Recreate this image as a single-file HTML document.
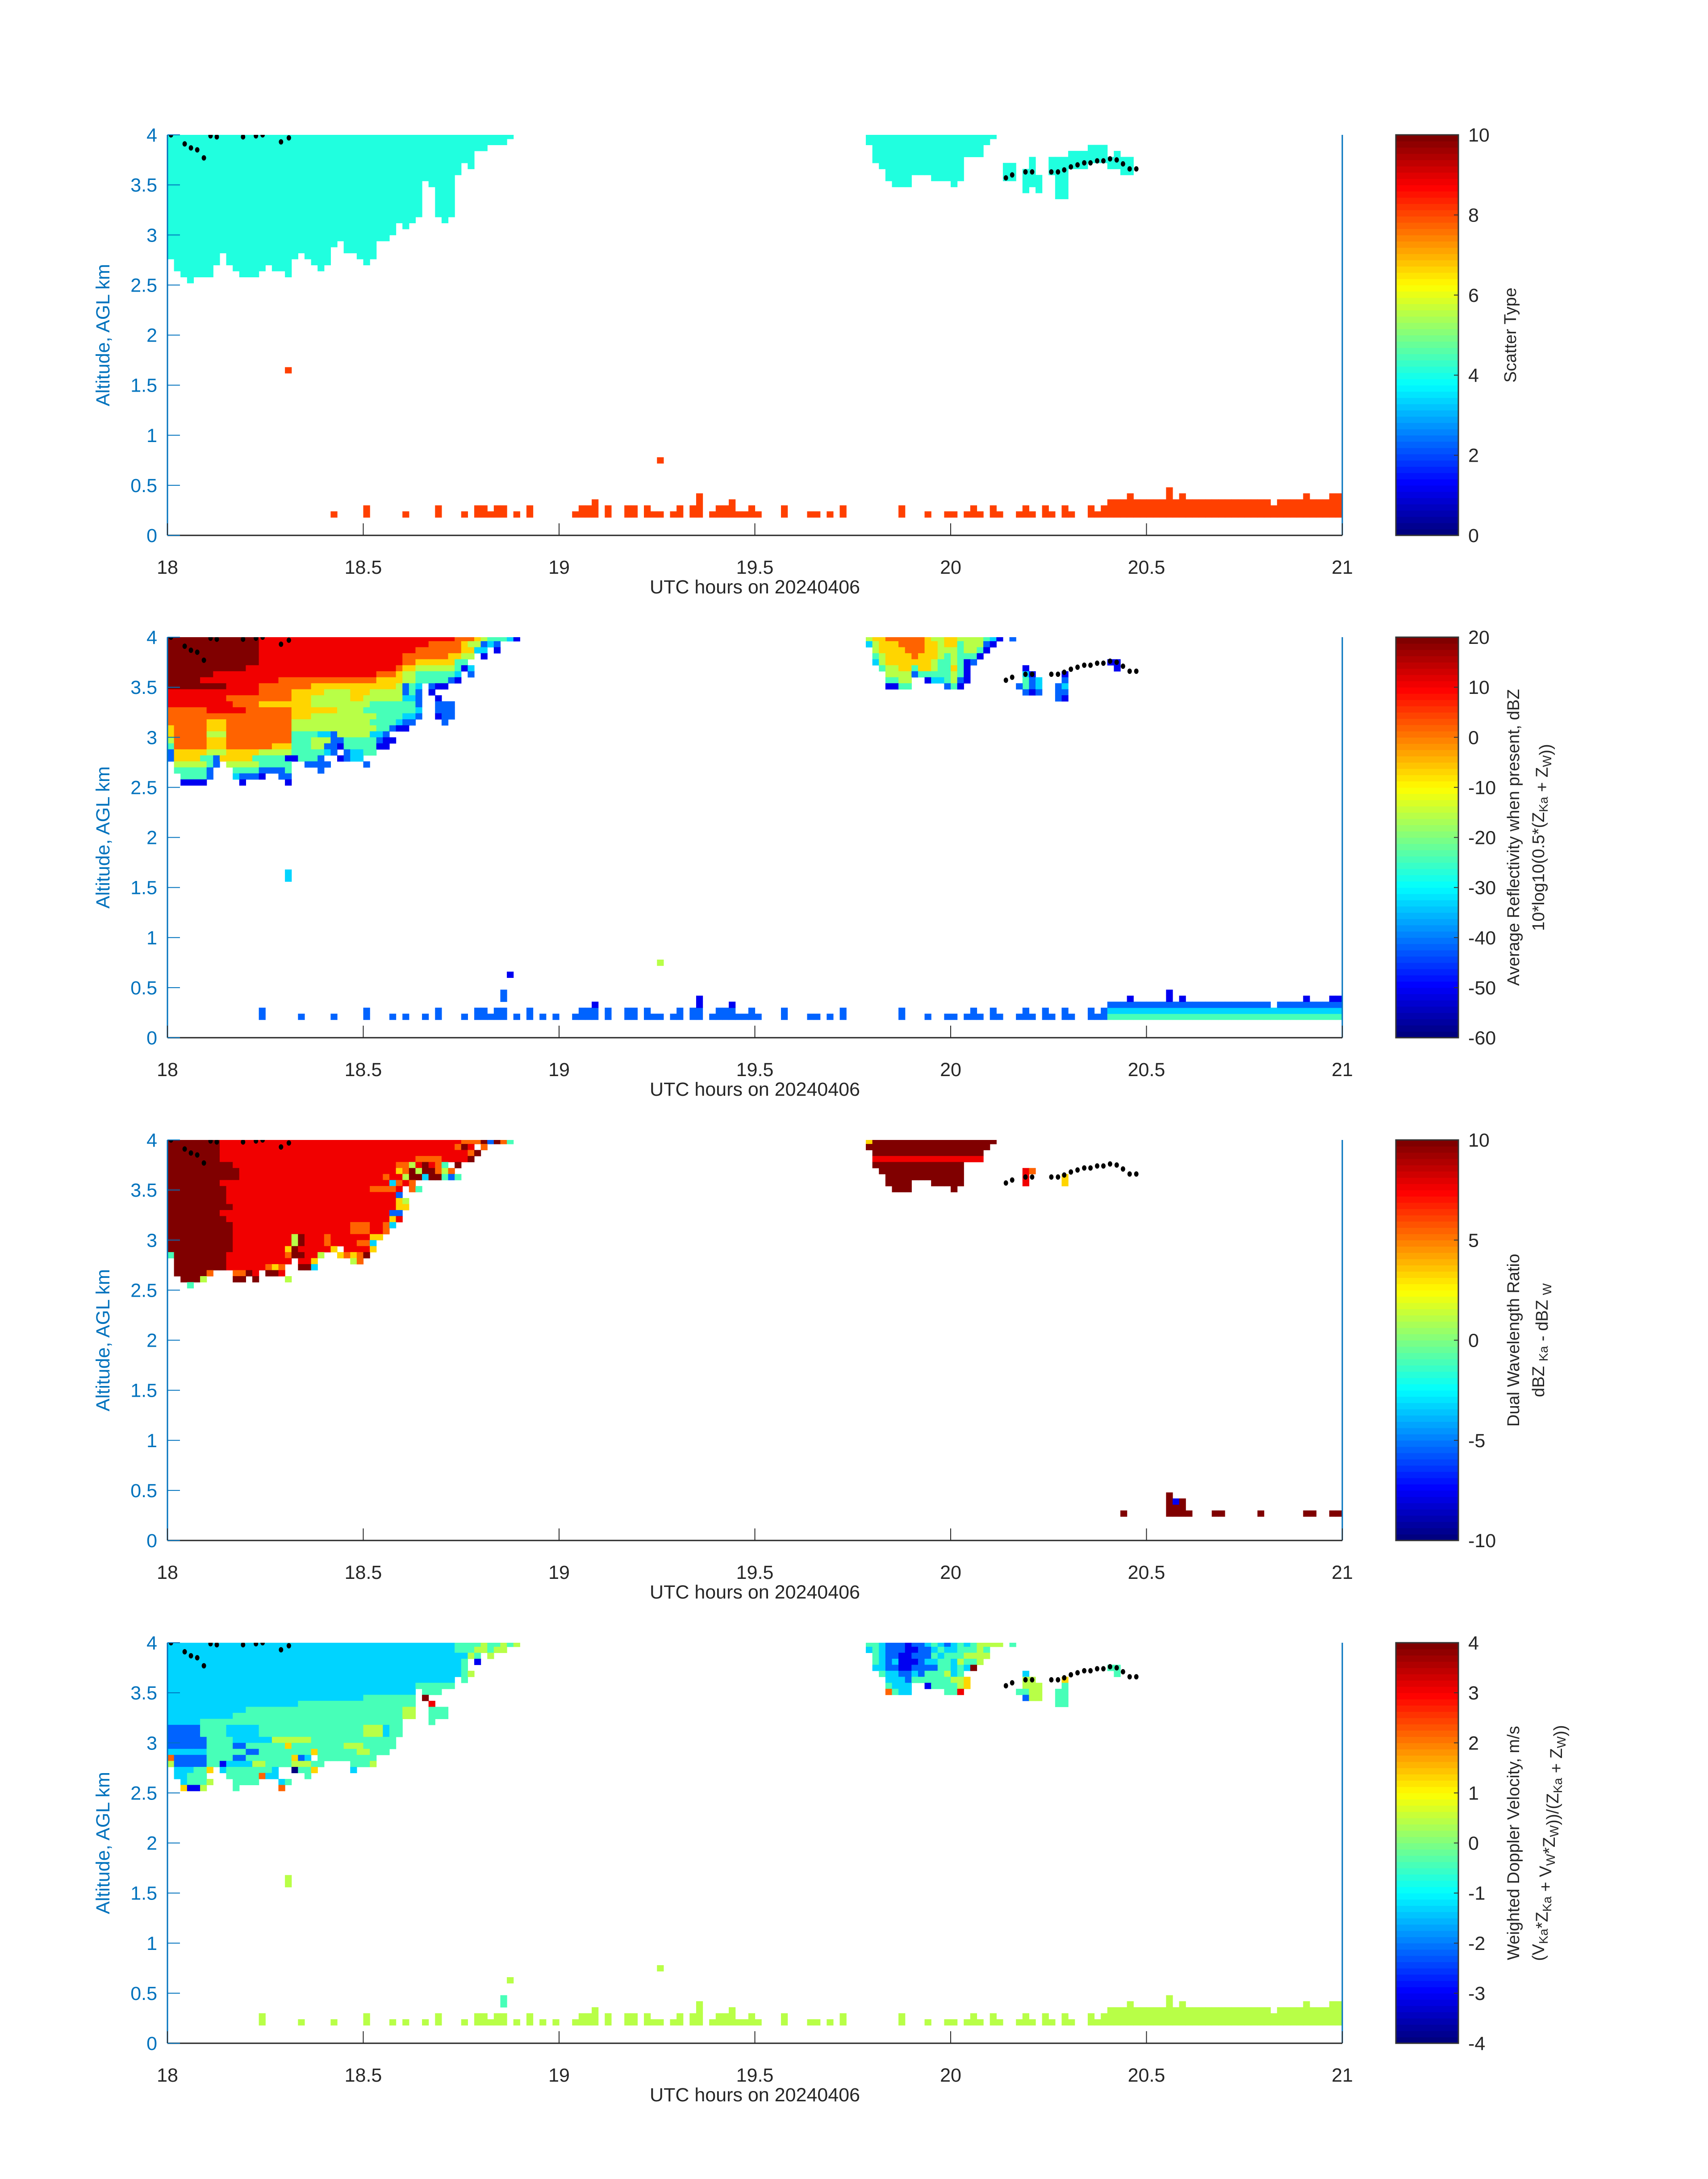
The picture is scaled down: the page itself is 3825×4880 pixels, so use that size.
<!DOCTYPE html>
<html><head><meta charset="utf-8"><title>Radar panels 20240406</title>
<style>
html,body{margin:0;padding:0;background:#fff;}
svg text{font-family:"Liberation Sans","DejaVu Sans",sans-serif;}
</style></head>
<body>
<svg id="fig" xmlns="http://www.w3.org/2000/svg" width="3825" height="4875" viewBox="0 0 3825 4875">
<rect x="0" y="0" width="3825" height="4875" fill="#fff"/>
</svg>
<script>
// ---------------- DATA ----------------
const xTickValues = [18, 18.5, 19, 19.5, 20, 20.5, 21];
const xTickLabels = ["18", "18.5", "19", "19.5", "20", "20.5", "21"];
const yTickValues = [0, 0.5, 1, 1.5, 2, 2.5, 3, 3.5, 4];
const yTickLabels = ["0", "0.5", "1", "1.5", "2", "2.5", "3", "3.5", "4"];
const cbTicks1 = [0, 2, 4, 6, 8, 10];
const cbTicks2 = [-60, -50, -40, -30, -20, -10, 0, 10, 20];
const cbTicks3 = [-10, -5, 0, 5, 10];
const cbTicks4 = [-4, -3, -2, -1, 0, 1, 2, 3, 4];
const cbRanges = [[0, 10], [-60, 20], [-10, 10], [-4, 4]];

const cloud1Bottom = [2.76,2.64,2.58,2.52,2.58,2.58,2.58,2.70,2.82,2.70,2.64,2.58,2.58,2.58,2.64,2.70,2.64,2.64,2.58,2.76,2.82,2.76,2.70,2.64,2.70,2.88,2.94,2.82,2.82,2.76,2.70,2.76,2.94,2.94,3.00,3.12,3.06,3.12,3.18,3.54,3.48,3.18,3.12,3.18,3.60,3.72,3.66,3.84,3.84,3.90,3.90,3.90,3.96];
const cloud2Start = 107;
const cloud2Bottom = [3.90,3.72,3.66,3.54,3.48,3.48,3.48,3.60,3.60,3.60,3.54,3.54,3.54,3.48,3.54,3.78,3.78,3.78,3.90,3.96];
const blobCols = [128,129,131,132,133,135,136,137,138,139,140,141,142,143,144,145,146,147];
const blobBottom = [3.54,3.54,3.42,3.48,3.42,3.60,3.36,3.36,3.66,3.66,3.66,3.72,3.72,3.72,3.66,3.66,3.60,3.60];
const blobTop = [3.72,3.72,3.66,3.78,3.60,3.78,3.78,3.78,3.84,3.84,3.84,3.90,3.90,3.90,3.78,3.84,3.78,3.78];
const clutterCols = [25,30,36,41,45,47,48,49,50,51,53,55,62,63,64,65,67,70,71,73,74,75,77,78,80,81,83,84,85,86,87,88,89,90,94,98,99,101,103,112,116,119,120,122,123,124,126,127,130,131,132,134,135,137,138,141,142,143,144,145,146,147,148,149,150,151,152,153,154,155,156,157,158,159,160,161,162,163,164,165,166,167,168,169,170,171,172,173,174,175,176,177,178,179];
const clutterTop = [.24,.30,.24,.30,.24,.30,.30,.24,.30,.30,.24,.30,.24,.30,.30,.36,.30,.30,.30,.30,.24,.24,.24,.30,.30,.42,.24,.30,.30,.36,.24,.24,.30,.24,.30,.24,.24,.24,.30,.30,.24,.24,.24,.24,.30,.24,.30,.24,.24,.30,.24,.30,.24,.30,.24,.30,.24,.30,.36,.36,.36,.42,.36,.36,.36,.36,.36,.48,.36,.42,.36,.36,.36,.36,.36,.36,.36,.36,.36,.36,.36,.36,.36,.30,.36,.36,.36,.36,.42,.36,.36,.36,.42,.42];
const clutterBase = 0.18;
const extraClutterCols = [14,20,34,39,57,59];
const extraClutterTop = [.30,.24,.24,.24,.24,.24];
const isoCols1 = [18, 75];
const isoBottom1 = [1.62, 0.72];
const isoCols2 = [18, 75, 51, 52];
const isoBottom2 = [1.56, 0.72, 0.36, 0.60];
const isoTop2 = [1.68, 0.78, 0.48, 0.66];
const isoLevel2 = ["3", "5", "2", "1"];
const isoLevel4 = ["5", "5", "4", "5"];
const dotHours = [18.009,18.044,18.06,18.076,18.093,18.11,18.126,18.193,18.226,18.243,18.29,18.31,20.141,20.157,20.191,20.208,20.257,20.274,20.29,20.307,20.324,20.341,20.357,20.374,20.39,20.407,20.424,20.44,20.457,20.474];
const dotKm = [4.0,3.91,3.87,3.85,3.77,3.99,3.98,3.98,3.99,4.0,3.93,3.97,3.57,3.60,3.63,3.63,3.63,3.63,3.65,3.68,3.70,3.72,3.72,3.74,3.74,3.76,3.75,3.71,3.66,3.66];

const reflRows = [
"9:14,8:30,7:3,6:1,5:1,4:3,3:1,1:1",
"9:14,8:26,7:5,6:1,5:2,2:1,3:1,2:1",
"9:14,8:24,7:7,6:2,3:2,.:1,1:1",
"9:14,8:22,7:7,6:2,5:2,.:1,1:1",
"9:14,8:22,7:2,6:6,4:2",
"9:12,8:23,7:1,6:2,5:6,4:1,1:1,3:1",
"9:7,8:25,7:3,6:1,5:2,4:6,3:1,.:1,2:1",
"9:5,8:12,7:15,6:4,5:2,4:5,2:1,1:1",
"9:9,8:5,7:8,6:13,5:1,2:1,4:1,3:1,.:1,2:1,1:2",
"8:14,7:5,6:5,5:4,6:3,5:5,2:1,4:1,2:1,.:1,1:1",
"8:9,7:10,6:3,5:6,6:2,5:6,3:2,2:1,.:2,1:1",
"8:10,7:4,6:8,5:9,4:7,2:1,.:2,2:3",
"7:6,8:6,7:7,6:7,5:4,4:8,3:1,.:2,2:3",
"7:19,6:3,5:10,4:4,3:2,2:1,.:2,1:1,2:2",
"7:6,6:3,7:10,5:12,4:4,3:1,2:2,.:4,2:1",
"6:1,7:5,6:3,7:10,5:13,4:2,2:1,1:2",
"6:1,7:5,5:3,7:10,4:4,3:2,2:1,5:5,3:2,2:1",
"5:1,7:5,6:3,7:10,4:3,5:3,2:2,4:5,2:1,1:2",
"4:1,7:5,6:3,7:7,6:3,4:3,5:2,2:2,1:1,4:5,1:2",
"2:1,6:5,5:3,6:5,5:5,4:5,3:1,2:1,.:1,2:1,3:2,4:2",
"2:1,6:4,4:2,2:1,6:5,4:5,1:2,4:3,2:1,.:2,1:1,2:1,3:2",
".:1,5:5,4:1,2:1,.:1,5:5,4:5,.:2,2:4,.:5,2:1",
".:1,4:5,2:1,.:3,4:4,2:4,4:1,.:4,2:1",
".:2,4:4,2:1,.:3,3:1,2:3,1:1,.:2,2:2",
".:2,1:4,.:5,1:1,.:6,1:1"
];
const dwrRows = [
"9:8,8:37,7:3,9:1,2:1,9:1,7:1,4:1",
"9:8,8:36,7:1,9:1,8:1,.:1,7:1",
"9:8,8:38,7:1,9:1",
"9:8,8:30,7:4,8:4,9:1",
"9:10,8:25,7:2,5:1,8:1,9:1,8:1,7:1,4:1,.:1,9:1",
"9:11,8:24,6:1,7:1,9:1,5:1,9:2,7:1,5:1,7:1",
"9:11,8:22,7:1,8:2,5:1,9:2,3:1,9:2,4:1,2:1,4:1",
"9:8,8:26,3:1,7:1,8:1,7:1",
"9:9,8:22,7:4,8:1,.:1,7:1,4:1",
"9:9,8:26,2:1",
"9:9,8:26,6:1,5:1",
"9:10,8:25,6:2",
"9:8,8:26,2:2",
"9:9,8:25,6:1,8:1",
"9:10,8:18,7:3,8:2,7:1,3:1",
"9:10,8:18,7:3,8:2,7:1",
"9:10,8:9,5:1,9:1,8:3,7:1,8:6,6:2",
"9:10,8:9,5:1,9:1,8:3,7:1,8:4,7:2,3:1",
"9:10,8:8,6:1,9:1,8:5,6:1,.:1,8:4,6:1",
"4:1,9:8,8:9,7:1,9:2,8:2,5:1,.:2,6:1,7:1,6:1,7:1,9:1",
".:1,9:8,8:10,.:1,8:2,6:1,.:5,5:1,7:1",
".:1,9:8,8:6,7:1,6:1,7:1,.:2,9:2,3:1",
".:1,9:5,7:1,.:3,7:2,9:1,8:1,.:1,9:2,8:1",
".:2,9:3,5:1,.:4,9:2,.:1,9:1,.:4,5:1",
".:3,4:1"
];
const doppRows = [
"3:44,4:4,5:1,4:2,5:1,4:1,5:1",
"3:44,4:3,5:2,4:1,5:2",
"3:46,5:1,4:1,.:1,5:1",
"3:45,4:1,.:1,1:1",
"3:45,4:1",
"3:45,4:1,5:1",
"3:44,.:1,4:1",
"3:38,4:6",
"3:38,.:1,4:3",
"3:30,4:8,.:1,9:1",
"3:20,4:18,.:2,8:1",
"3:12,4:24,5:2,.:2,4:3",
"3:10,4:26,5:2,.:2,4:3",
"3:5,4:31,.:4,4:1",
"2:5,4:4,3:5,4:16,5:3,3:1,4:2",
"2:5,4:4,3:5,4:16,5:3,3:1,4:2",
"2:6,4:4,3:6,5:6,4:13",
"2:6,4:4,2:2,4:6,6:1,4:8,5:3,4:5",
"3:6,4:6,2:2,4:8,6:1,4:6,5:2,4:3",
"7:1,2:5,4:4,2:2,4:7,6:1,2:1,3:1,.:1,4:9",
"5:1,2:5,4:2,1:1,3:4,5:2,4:4,5:3,4:2,.:4,4:3,5:1",
".:1,3:3,4:2,6:1,.:1,3:1,4:7,3:1,.:2,0:1,4:2,6:1,.:5,3:1",
".:1,3:2,4:3,.:3,4:5,7:1,3:2,.:4,4:1",
".:2,3:1,4:3,5:1,.:3,4:4,.:3,3:1,4:1",
".:2,6:1,1:2,5:1,.:4,4:1,.:6,7:1"
];
const refl2Rows = ["566777777655665555431.2","35666777766566455521",".566667776655545541",".45666676665454441",".3566666665445412","..45566466544641","...5555244444541","...4455..1334521","...1144.....241"];
const dopp2Rows = ["443222122343234345555.4","3432221122343344454",".432211222434445555",".43231112334435445",".3322112222443439","..4332232444534","...3332444444556","...4333..1444456","...7433.....448"];
const dwr2RowLevels = ["9","9","9","8","9","9","9","9","9"];
const blob2Cols = [131,131,131,131,131,130,132,132,132,132,133,133,133,136,136,136,137,137,137,137,137,144,145,145];
const blob2Rows = [5,6,7,8,9,8,6,7,8,9,7,8,9,8,9,10,6,7,8,9,10,4,4,5];
const blob2Lev = ["1","3","4","4","2","2","1","2","2","1","3","3","2","2","2","2","1","2","3","2","1","1","1","1"];
const blob4Lev = ["3","5","5","4","2","4","5","5","5","5","5","5","5","4","4","4","6","4","4","4","4","4","4","4"];
const blob3Cols = [131,131,131,132,137,137];
const blob3Rows = [5,6,7,5,6,7];
const blob3Lev = ["8","8","8","7","6","6"];
const clutterLev2A = ["2","2","1","1","1"];
const clutterLev2B = ["4","3","2","1","1"];
const clutterLev4 = ["5","5","5","5","5"];
const dwrClutterCols = [146,153,154,154,155,156,160,161,167,174,175,178,179];
const dwrClutterBottom = [0.24,0.24,0.24,0.36,0.24,0.24,0.24,0.24,0.24,0.24,0.24,0.24,0.24];
const dwrClutterTop = [0.30,0.48,0.36,0.42,0.42,0.30,0.30,0.30,0.30,0.30,0.30,0.30,0.30];
const dwrClutterLev = ["9","9","9","1","9","9","9","9","9","9","9","9","9"];

// ---------------- LAYOUT ----------------
const NS = "http://www.w3.org/2000/svg";
const svg = document.getElementById("fig");
const PT = [302, 1427, 2553, 3679];
const PH = 897;
const X0 = 375, XW = 2631;
const CBX = 3126, CBW = 140;
const BLUE = "#0072BD", DARK = "#262626";
const CYAN1 = "#20FFDF", ORANGE1 = "#FF4000";
const COLW = XW / 180;
function xh(h){ return X0 + (h - 18) * XW / 3; }
function yk(p, km){ return PT[p] + (4 - km) * PH / 4; }
function colX(k){ return xh(18 + k / 60); }
function cl(v){ return Math.max(0, Math.min(1, v)); }
function jet(t){
  const r = cl(1.5 - Math.abs(4*t - 3)), g = cl(1.5 - Math.abs(4*t - 2)), b = cl(1.5 - Math.abs(4*t - 1));
  return "rgb(" + Math.round(r*255) + "," + Math.round(g*255) + "," + Math.round(b*255) + ")";
}
function lev(c){ return jet(parseInt(c, 10) / 9); }
function rle(s){
  let out = "";
  s.split(",").forEach(function(seg){ const q = seg.split(":"); out += q[0].repeat(parseInt(q[1], 10)); });
  return out;
}
function mk(tag, attrs, parent){
  const el = document.createElementNS(NS, tag);
  for (const k in attrs) el.setAttribute(k, attrs[k]);
  (parent || svg).appendChild(el);
  return el;
}
function cell(g, p, k, bottom, top, color){
  const x = colX(k), y1 = yk(p, Math.min(top, 4.02)), y2 = yk(p, bottom);
  const r = mk("rect", {x: x.toFixed(2), y: y1.toFixed(2), width: (COLW + 0.6).toFixed(2), height: (y2 - y1 + 0.6).toFixed(2), fill: color}, g);
  
  
  return r;
}
function drawGrid(g, p, startCol, rows, isRle){
  rows.forEach(function(row, i){
    const s = isRle ? rle(row) : row;
    const bottom = (66 - i) * 0.06;
    for (let c = 0; c < s.length; c++){
      const ch = s[c];
      if (ch === "." || ch === " ") continue;
      cell(g, p, startCol + c, bottom, bottom + 0.06, lev(ch));
    }
  });
}

const cbTickSets = [cbTicks1, cbTicks2, cbTicks3, cbTicks4];
const panelNames = ["scatter-type", "reflectivity", "dual-wavelength-ratio", "doppler-velocity"];

for (let p = 0; p < 4; p++){
  const top = PT[p], bot = PT[p] + PH;
  const panel = mk("g", {});
  
  
  const clip = mk("clipPath", {id: "clip" + p}, panel);
  mk("rect", {x: X0, y: top, width: XW, height: PH}, clip);
  const plot = mk("g", {"clip-path": "url(#clip" + p + ")"}, panel);
  
  

  if (p === 0){
    cloud1Bottom.forEach(function(b, k){ cell(plot, p, k, b, 4.02, CYAN1); });
    cloud2Bottom.forEach(function(b, k){ cell(plot, p, cloud2Start + k, b, 4.02, CYAN1); });
    blobCols.forEach(function(c, i){ cell(plot, p, c, blobBottom[i], blobTop[i], CYAN1); });
    clutterCols.forEach(function(c, i){ cell(plot, p, c, clutterBase, clutterTop[i], ORANGE1); });
    isoCols1.forEach(function(c, i){ cell(plot, p, c, isoBottom1[i], isoBottom1[i] + 0.06, ORANGE1); });
  } else if (p === 1){
    drawGrid(plot, p, 0, reflRows, true);
    drawGrid(plot, p, cloud2Start, refl2Rows, false);
    blob2Cols.forEach(function(c, i){ const b = (66 - blob2Rows[i]) * 0.06; cell(plot, p, c, b, b + 0.06, lev(blob2Lev[i])); });
    const allC = clutterCols.concat(extraClutterCols), allT = clutterTop.concat(extraClutterTop);
    allC.forEach(function(c, i){
      const n = Math.round((allT[i] - clutterBase) / 0.06);
      for (let r = 0; r < n; r++){
        const lv = c >= 144 ? clutterLev2B[r] : clutterLev2A[r];
        cell(plot, p, c, clutterBase + r*0.06, clutterBase + (r+1)*0.06, lev(lv));
      }
    });
    isoCols2.forEach(function(c, i){ cell(plot, p, c, isoBottom2[i], isoTop2[i], lev(isoLevel2[i])); });
  } else if (p === 2){
    drawGrid(plot, p, 0, dwrRows, true);
    cloud2Bottom.forEach(function(b, k){
      for (let r = 0; r < 9; r++){
        const bb = (66 - r) * 0.06;
        if (bb + 0.001 < b) break;
        const lv = (k === 0 && r === 0) ? "6" : dwr2RowLevels[r];
        cell(plot, p, cloud2Start + k, bb, bb + 0.06, lev(lv));
      }
    });
    blob3Cols.forEach(function(c, i){ const b = (66 - blob3Rows[i]) * 0.06; cell(plot, p, c, b, b + 0.06, lev(blob3Lev[i])); });
    dwrClutterCols.forEach(function(c, i){ cell(plot, p, c, dwrClutterBottom[i], dwrClutterTop[i], lev(dwrClutterLev[i])); });
  } else {
    drawGrid(plot, p, 0, doppRows, true);
    drawGrid(plot, p, cloud2Start, dopp2Rows, false);
    blob2Cols.forEach(function(c, i){ const b = (66 - blob2Rows[i]) * 0.06; cell(plot, p, c, b, b + 0.06, lev(blob4Lev[i])); });
    const allC = clutterCols.concat(extraClutterCols), allT = clutterTop.concat(extraClutterTop);
    allC.forEach(function(c, i){
      const n = Math.round((allT[i] - clutterBase) / 0.06);
      for (let r = 0; r < n; r++){
        cell(plot, p, c, clutterBase + r*0.06, clutterBase + (r+1)*0.06, lev(clutterLev4[r]));
      }
    });
    isoCols2.forEach(function(c, i){ cell(plot, p, c, isoBottom2[i], isoTop2[i], lev(isoLevel4[i])); });
  }
  dotHours.forEach(function(h, i){
    const d = mk("ellipse", {cx: xh(h).toFixed(1), cy: yk(p, dotKm[i]).toFixed(1), rx: 5, ry: 6, fill: "#000"}, plot);
    
    
  });

  const yAxis = mk("line", {x1: X0, y1: top, x2: X0, y2: bot, stroke: BLUE, "stroke-width": 3}, panel);
  
  
  const rAxis = mk("line", {x1: X0 + XW, y1: top, x2: X0 + XW, y2: bot, stroke: BLUE, "stroke-width": 3}, panel);
  
  
  const xAxis = mk("line", {x1: X0, y1: bot, x2: X0 + XW, y2: bot, stroke: DARK, "stroke-width": 3}, panel);
  
  

  xTickValues.forEach(function(v, i){
    const x = xh(v);
    const t = mk("line", {x1: x, y1: bot, x2: x, y2: bot - 27, stroke: DARK, "stroke-width": 2}, panel);
    
    
    const lab = mk("text", {x: x, y: bot + 86, "font-size": 43, fill: DARK, "text-anchor": "middle"}, panel);
    lab.textContent = xTickLabels[i];
    
    
  });
  yTickValues.forEach(function(v, i){
    const y = yk(p, v);
    const t = mk("line", {x1: X0, y1: y, x2: X0 + 28, y2: y, stroke: BLUE, "stroke-width": 2}, panel);
    
    
    const lab = mk("text", {x: 352, y: y + 15, "font-size": 43, fill: BLUE, "text-anchor": "end"}, panel);
    lab.textContent = yTickLabels[i];
    
    
  });
  const xl = mk("text", {x: X0 + XW/2, y: bot + 130, "font-size": 43, fill: DARK, "text-anchor": "middle"}, panel);
  xl.textContent = "UTC hours on 20240406";
  
  
  const midY = top + PH/2;
  const yl = mk("text", {x: 0, y: 0, "font-size": 43, fill: BLUE, "text-anchor": "middle", transform: "translate(245," + midY + ") rotate(-90)"}, panel);
  yl.textContent = "Altitude, AGL km";
  
  

  const cb = mk("g", {}, panel);
  
  
  for (let i = 0; i < 64; i++){
    const h = PH / 64;
    const r = mk("rect", {x: CBX, y: (bot - (i+1)*h).toFixed(2), width: CBW, height: (h + 0.6).toFixed(2), fill: jet(i/63)}, cb);
    
    
  }
  const border = mk("rect", {x: CBX, y: top, width: CBW, height: PH, fill: "none", stroke: "#333", "stroke-width": 3}, cb);
  
  
  const rng = cbRanges[p];
  cbTickSets[p].forEach(function(v){
    const y = bot - (v - rng[0]) / (rng[1] - rng[0]) * PH;
    const t = mk("line", {x1: CBX + CBW - 10, y1: y, x2: CBX + CBW, y2: y, stroke: "#333", "stroke-width": 2}, cb);
    
    
    const lab = mk("text", {x: 3288, y: y + 15, "font-size": 43, fill: DARK}, cb);
    lab.textContent = String(v);
    
    
  });
}

function rotText(cx, cy, name){
  const t = mk("text", {x: 0, y: 0, "font-size": 38, fill: DARK, "text-anchor": "middle", transform: "translate(" + cx + "," + cy + ") rotate(-90)"});
  
  
  return t;
}
function sub(t, txt){
  const s = document.createElementNS(NS, "tspan");
  s.setAttribute("font-size", "28");
  s.setAttribute("dy", "8");
  s.textContent = txt;
  t.appendChild(s);
  const back = document.createElementNS(NS, "tspan");
  back.setAttribute("dy", "-8");
  back.textContent = "";
  t.appendChild(back);
  return back;
}
function plain(t, txt){
  const s = document.createElementNS(NS, "tspan");
  s.textContent = txt;
  t.appendChild(s);
}
let t1 = rotText(3395, PT[0] + PH/2, 'colorbar-title-scatter');
t1.textContent = "Scatter Type";

let t2a = rotText(3402, PT[1] + PH/2, 'colorbar-title-reflectivity');
t2a.textContent = "Average Reflectivity when present, dBZ";
let t2b = rotText(3458, PT[1] + PH/2, 'colorbar-subtitle-reflectivity');
plain(t2b, "10*log10(0.5*(Z"); sub(t2b, "Ka"); plain(t2b, " + Z"); sub(t2b, "W"); plain(t2b, "))");

let t3a = rotText(3402, PT[2] + PH/2, 'colorbar-title-dwr');
t3a.textContent = "Dual Wavelength Ratio";
let t3b = rotText(3458, PT[2] + PH/2, 'colorbar-subtitle-dwr');
plain(t3b, "dBZ "); sub(t3b, "Ka"); plain(t3b, " - dBZ "); sub(t3b, "W");

let t4a = rotText(3402, PT[3] + PH/2, 'colorbar-title-doppler');
t4a.textContent = "Weighted Doppler Velocity, m/s";
let t4b = rotText(3458, PT[3] + PH/2, 'colorbar-subtitle-doppler');
plain(t4b, "(V"); sub(t4b, "Ka"); plain(t4b, "*Z"); sub(t4b, "Ka"); plain(t4b, " + V"); sub(t4b, "W"); plain(t4b, "*Z"); sub(t4b, "W"); plain(t4b, "))/(Z"); sub(t4b, "Ka"); plain(t4b, " + Z"); sub(t4b, "W"); plain(t4b, "))");
</script>
</body></html>
